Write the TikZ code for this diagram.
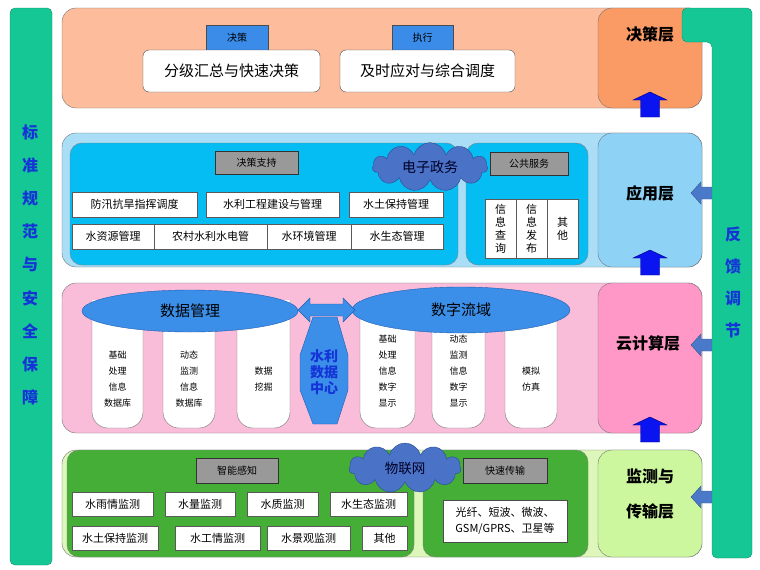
\documentclass[tikz,border=0pt]{standalone}
\usepackage{fontspec}
\setmainfont{Noto Sans CJK SC}
\usetikzlibrary{shapes.symbols,shapes.geometric}

\definecolor{barGreen}{HTML}{14C794}
\definecolor{barEdge}{HTML}{0F8F68}
\definecolor{barText}{HTML}{1534D8}
\definecolor{decBg}{HTML}{FDBC9B}
\definecolor{decTag}{HTML}{FA9A64}
\definecolor{tagBlue}{HTML}{3A8CE8}
\definecolor{appBg}{HTML}{A9DEF6}
\definecolor{appTag}{HTML}{8ED2F6}
\definecolor{appInner}{HTML}{05BDF3}
\definecolor{tagGrey}{HTML}{999999}
\definecolor{cloudBlue}{HTML}{4A72C6}
\definecolor{cloudEdge}{HTML}{2B4C95}
\definecolor{cldBg}{HTML}{F9BDD9}
\definecolor{cldTag}{HTML}{FF98C7}
\definecolor{ellBlue}{HTML}{3C8FE9}
\definecolor{ellEdge}{HTML}{1F5DAE}
\definecolor{monBg}{HTML}{DDF6B9}
\definecolor{monTag}{HTML}{CDF79E}
\definecolor{monInner}{HTML}{45AE36}
\definecolor{upBlue}{HTML}{0A14F0}
\definecolor{fbBlue}{HTML}{4B79C9}

\tikzset{
  layerbg/.style={draw=black!55, rounded corners=14pt},
  greytag/.style={draw=black!80, fill=tagGrey, inner sep=0pt, minimum height=23pt, font=\fontsize{10}{10}\selectfont},
  bluetag/.style={draw=black!70, fill=tagBlue, inner sep=0pt, minimum height=25pt, font=\fontsize{10}{10}\selectfont},
  itembox/.style={draw=black!65, fill=white, inner sep=0pt, minimum height=25pt, font=\fontsize{11}{11}\selectfont},
  bigbox/.style={draw=black!70, fill=white, rounded corners=6pt, inner sep=0pt, minimum height=42pt, font=\fontsize{15}{15}\selectfont},
  layername/.style={font=\bfseries\fontsize{16}{35}\selectfont, align=center},
  barchar/.style={text=barText, font=\bfseries\fontsize{16}{16}\selectfont},
  cloudbox/.style={cloud, cloud puffs=11, aspect=2.4, draw=cloudEdge, fill=cloudBlue, inner sep=0pt, text=black!85!blue},
  coltube/.style={draw=black!55, fill=white, rounded corners=16pt},
  coltext/.style={font=\fontsize{9}{16}\selectfont, align=center},
  vertbox/.style={draw=black!65, fill=white, inner sep=0pt, minimum width=31pt, minimum height=59pt, align=center, font=\fontsize{11}{13}\selectfont},
  datablob/.style={ellipse, draw=ellEdge, fill=ellBlue, inner sep=0pt, font=\fontsize{15}{15}\selectfont}
}

\begin{document}
\begin{tikzpicture}[x=1pt,y=-1pt]
  \useasboundingbox (0,0) rectangle (760,570);

  % Decision layer
  \fill[decBg, layerbg] (62,8) rectangle (702,108);
  \fill[decTag, layerbg] (598,8) rectangle (702,108);
  \node[layername] (declayer) at (650,34) {决策层};
  \node[bluetag, minimum width=62pt] (jc) at (237,37.5) {决策};
  \node[bluetag, minimum width=61pt] (zx) at (422.5,37.5) {执行};
  \node[bigbox, minimum width=177pt] (fjhz) at (231.5,71) {分级汇总与快速决策};
  \node[bigbox, minimum width=175pt] (jsyd) at (427.5,71) {及时应对与综合调度};

  % Application layer
  \fill[appBg, layerbg] (62,133) rectangle (702,267);
  \fill[appTag, layerbg] (598,133) rectangle (702,267);
  \fill[appInner, draw=black!50, rounded corners=12pt] (70,143) rectangle (458,265);
  \fill[appInner, draw=black!50, rounded corners=12pt] (466,143) rectangle (588,265);
  \node[layername] (applayer) at (650,193) {应用层};
  \node[greytag, minimum width=83pt] (jczc) at (256.5,162.5) {决策支持};
  \node[greytag, minimum width=78pt] (ggfw) at (529,163.5) {公共服务};
  \node[itembox, minimum width=125pt] (fxkh) at (134.5,204.5) {防汛抗旱指挥调度};
  \node[itembox, minimum width=133pt] (slgc) at (272.5,204.5) {水利工程建设与管理};
  \node[itembox, minimum width=94pt] (stbc) at (396,204.5) {水土保持管理};
  \node[itembox, minimum width=82pt] (szy) at (113,236.5) {水资源管理};
  \node[itembox, minimum width=113pt] (ncsl) at (210.5,236.5) {农村水利水电管};
  \node[itembox, minimum width=84pt] (shj) at (309,236.5) {水环境管理};
  \node[itembox, minimum width=92pt] (sst) at (397,236.5) {水生态管理};
  \node[vertbox] (xxcx) at (500.5,228.5) {信\\息\\查\\询};
  \node[vertbox] (xxfb) at (531.5,228.5) {信\\息\\发\\布};
  \node[vertbox] (qt1) at (562.5,228.5) {其\\他};
  \node[cloudbox, minimum width=115pt, minimum height=42pt, font=\fontsize{14}{14}\selectfont] (dzzw) at (430,167) {电子政务};

  % Cloud computing layer
  \fill[cldBg, layerbg] (62,283) rectangle (702,433);
  \fill[cldTag, layerbg] (598,283) rectangle (702,433);
  \node[layername] (cldlayer) at (648,343) {云计算层};
  \foreach \xa/\xb in {92/143,163/215,237/290,360/415,432/485,505/557}
    \filldraw[coltube] (\xa,300) -- (\xa,428) -- (\xb,428) -- (\xb,300);
  \node[coltext] (jc1) at (117.5,379) {基础\\处理\\信息\\数据库};
  \node[coltext] (dt1) at (189,379) {动态\\监测\\信息\\数据库};
  \node[coltext] (sjwj) at (263.5,379) {数据\\挖掘};
  \node[coltext] (jc2) at (387.5,371) {基础\\处理\\信息\\数字\\显示};
  \node[coltext] (dt2) at (458.5,371) {动态\\监测\\信息\\数字\\显示};
  \node[coltext] (mnfz) at (531,379) {模拟\\仿真};
  \node[datablob, minimum width=216pt, minimum height=42pt] (sjgl) at (190,311) {数据管理};
  \node[datablob, minimum width=218pt, minimum height=46pt] (szly) at (461,310) {数字流域};
  \filldraw[fill=ellBlue, draw=ellEdge] (298,310) -- (310,298) -- (310,304) -- (343,304) -- (343,298)
    -- (355,310) -- (343,322) -- (343,316) -- (310,316) -- (310,322) -- cycle;
  \filldraw[fill=ellBlue, draw=ellEdge] (313,317) -- (337,317) -- (348,355) -- (348,390)
    -- (337,424) -- (313,424) -- (300,390) -- (300,355) -- cycle;
  \node[align=center, text=barText, font=\bfseries\fontsize{14}{16}\selectfont] (sjzx) at (324,372) {水利\\数据\\中心};

  % Monitoring and transmission layer
  \fill[monBg, layerbg] (62,450) rectangle (702,557);
  \fill[monTag, layerbg] (598,450) rectangle (702,557);
  \fill[monInner, draw=black!50, rounded corners=12pt] (67,450) rectangle (414,557);
  \fill[monInner, draw=black!50, rounded corners=12pt] (423,450) rectangle (588,557);
  \node[layername] (monlayer) at (650,494) {监测与\\传输层};
  \node[greytag, minimum width=82pt, minimum height=25pt] (zngz) at (237,470.5) {智能感知};
  \node[greytag, minimum width=84pt, minimum height=25pt] (kscs) at (505,470.5) {快速传输};
  \node[itembox, minimum width=81pt, minimum height=24pt] (syq) at (112.5,504) {水雨情监测};
  \node[itembox, minimum width=70pt, minimum height=24pt] (sl) at (200,504) {水量监测};
  \node[itembox, minimum width=71pt, minimum height=24pt] (sz) at (282.5,504) {水质监测};
  \node[itembox, minimum width=77pt, minimum height=24pt] (stt) at (368.5,504) {水生态监测};
  \node[itembox, minimum width=86pt, minimum height=24pt] (stbj) at (115,538) {水土保持监测};
  \node[itembox, minimum width=85pt, minimum height=24pt] (sgq) at (217.5,538) {水工情监测};
  \node[itembox, minimum width=83pt, minimum height=24pt] (sjg) at (308.5,538) {水景观监测};
  \node[itembox, minimum width=45pt, minimum height=24pt] (qt2) at (384.5,538) {其他};
  \node[draw=black!70, fill=white, inner sep=0pt, minimum width=124pt, minimum height=42pt,
    align=center, font=\fontsize{11}{16}\selectfont] (gxdb) at (505,521) {光纤、短波、微波、\\GSM/GPRS、卫星等};
  \node[cloudbox, minimum width=112pt, minimum height=50pt, font=\fontsize{13.5}{14}\selectfont] (wlw) at (405,468) {物联网};

  % Upward arrows between layers
  \foreach \t in {92,250,417}
    \filldraw[fill=upBlue, draw=blue!50!black] (640.5,\t+25) -- (640.5,\t+8) -- (633,\t+8) -- (650,\t)
      -- (667,\t+8) -- (659.5,\t+8) -- (659.5,\t+25) -- cycle;

  % Feedback arrows
  \foreach \c in {193,345,497}
    \filldraw[fill=fbBlue, draw=fbBlue!70!black] (714,\c-6) -- (701,\c-6) -- (701,\c-11) -- (691,\c)
      -- (701,\c+11) -- (701,\c+6) -- (714,\c+6) -- cycle;

  % Side bars
  \filldraw[fill=barGreen, draw=barEdge, rounded corners=5pt] (10,8) rectangle (52,565);
  \foreach \ch [count=\i] in {标,准,规,范,与,安,全,保,障}
    \node[barchar] (std\i) at (30,{132+33.2*(\i-1)}) {\ch};
  \filldraw[fill=barGreen, draw=barEdge, rounded corners=5pt] (682,8) -- (752,8) -- (752,558)
    -- (712,558) -- (712,42) -- (682,42) -- cycle;
  \foreach \ch [count=\i] in {反,馈,调,节}
    \node[barchar] (fb\i) at (733,{234+32*(\i-1)}) {\ch};
\end{tikzpicture}
\end{document}
